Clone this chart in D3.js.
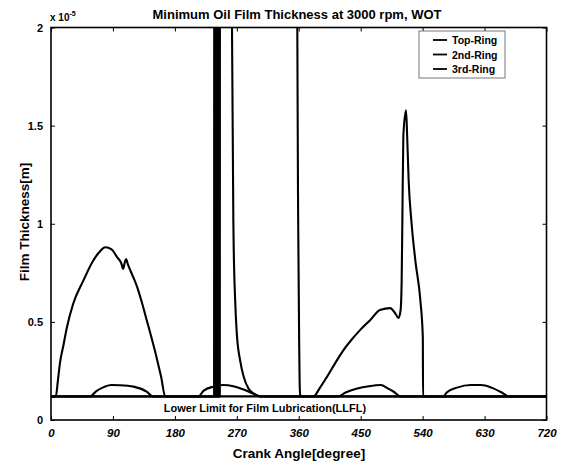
<!DOCTYPE html>
<html><head><meta charset="utf-8">
<script src="https://cdn.jsdelivr.net/npm/d3@7"></script>
<style>
html,body{margin:0;padding:0;background:#fff;}
svg text{font-family:"Liberation Sans",Arial,sans-serif;font-weight:bold;fill:#000;}
</style></head>
<body>
<svg id="chart" width="566" height="467"></svg>
<script>
// Crank angle [deg] / film thickness [x 1e-5 m]
const seriesNames = ["Top-Ring", "2nd-Ring", "3rd-Ring"];
const xTicks = [0, 90, 180, 270, 360, 450, 540, 630, 720];
const yTicks = [0, 0.5, 1, 1.5, 2];
const llfl = 0.12;

const topRing = [
  [0,0.12],[7,0.12],[10,0.2],[13,0.29],[18,0.38],[23,0.47],[32,0.59],[47,0.71],[61,0.81],[70,0.855],
  [79,0.88],[88,0.87],[96,0.83],[102,0.8],[105,0.77],[107,0.8],[109,0.82],[112,0.79],[118,0.74],
  [125,0.68],[132,0.6],[139,0.51],[146,0.42],[154,0.31],[160,0.22],[166,0.12],
  [237,0.12],[237.2,3],[238.8,3],[239,0.12],[240.3,0.12],[240.5,3],[241.8,3],[242,0.12],
  [243.8,0.12],[244,3],[357.6,3],[357.9,2.0],[359.2,1.0],[360.6,0.4],[361.6,0.15],[362.5,0.12],
  [381.5,0.12],[390,0.16],[401,0.22],[413,0.29],[425,0.356],[437,0.41],[449,0.458],[464,0.51],
  [478,0.56],[493,0.57],[500,0.545],[505,0.52],[508,0.56],[509.5,0.7],[510.5,1.0],[512,1.45],
  [515.9,1.578],[517.5,1.45],[519.7,1.22],[524,1.0],[529.5,0.81],[536.7,0.61],[540.3,0.42],
  [540.6,0.12],[720,0.12]
];
const secondRing = [
  [0,0.12],[245.3,0.12],[245.5,3],[262.5,3],[263,2.0],[265.2,0.95],[267.6,0.61],[270,0.44],
  [275,0.3],[280,0.22],[287,0.16],[294,0.135],[304,0.12],[720,0.12]
];
const thirdRing = [
  [0,0.12],[57,0.12],[65,0.145],[75,0.165],[88,0.178],[100,0.177],[120,0.17],[139,0.144],[148,0.12],
  [214,0.12],[222,0.15],[236,0.17],[250,0.178],[265,0.172],[280,0.155],[294,0.135],[305,0.12],
  [417,0.12],[428,0.14],[445,0.16],[462,0.172],[479,0.178],[490,0.16],[498,0.144],[508,0.12],
  [570,0.12],[575,0.14],[590,0.165],[610,0.178],[625,0.178],[640,0.165],[655,0.14],[665,0.12],
  [720,0.12]
];
const seriesData = [topRing, secondRing, thirdRing];

const svg = d3.select("#chart");
const L = 51, R = 546.5, T = 27.5, B = 420;
const x = d3.scaleLinear().domain([0, 720]).range([L, R]);
const y = d3.scaleLinear().domain([0, 2]).range([B, T]);

svg.append("defs").append("clipPath").attr("id", "clip")
  .append("rect").attr("x", L).attr("y", T).attr("width", R - L).attr("height", B - T);

// frame
svg.append("rect").attr("x", L).attr("y", T).attr("width", R - L).attr("height", B - T)
  .attr("fill", "none").attr("stroke", "#000").attr("stroke-width", 1.6);

// axes (ticks inside)
const xb = svg.append("g").attr("transform", `translate(0,${B})`)
  .call(d3.axisBottom(x).tickValues(xTicks).tickSize(-4).tickPadding(9).tickFormat(d3.format("d")));
const xt = svg.append("g").attr("transform", `translate(0,${T})`)
  .call(d3.axisTop(x).tickValues(xTicks).tickSize(-4).tickFormat(""));
const yl = svg.append("g").attr("transform", `translate(${L},0)`)
  .call(d3.axisLeft(y).tickValues(yTicks).tickSize(-4).tickPadding(8).tickFormat(d => d));
const yr = svg.append("g").attr("transform", `translate(${R},0)`)
  .call(d3.axisRight(y).tickValues(yTicks).tickSize(-4).tickFormat(""));
[xb, xt, yl, yr].forEach(g => {
  g.select(".domain").remove();
  g.selectAll(".tick line").attr("stroke", "#000").attr("stroke-width", 1);
});
xb.selectAll(".tick text").attr("font-size", 11.5).attr("font-style", "italic")
  .attr("font-family", "Liberation Sans, Arial, sans-serif").attr("font-weight", "bold");
yl.selectAll(".tick text").attr("font-size", 11)
  .attr("font-family", "Liberation Sans, Arial, sans-serif").attr("font-weight", "bold");

// lines
const line = d3.line().x(d => x(d[0])).y(d => y(d[1])).curve(d3.curveMonotoneX);
const g = svg.append("g").attr("clip-path", "url(#clip)");
g.append("line").attr("x1", x(0)).attr("x2", x(720)).attr("y1", y(llfl)).attr("y2", y(llfl))
  .attr("stroke", "#000").attr("stroke-width", 2.2);
seriesData.forEach((s, i) => {
  g.append("path").datum(s).attr("d", line).attr("fill", "none")
    .attr("stroke", "#000").attr("stroke-width", 2.1).attr("stroke-linejoin", "round");
});

// texts
svg.append("text").attr("x", 297).attr("y", 19).attr("text-anchor", "middle")
  .attr("font-size", 13).text("Minimum Oil Film Thickness at 3000 rpm, WOT");
const ex = svg.append("text").attr("x", 50).attr("y", 21).attr("font-size", 10);
ex.append("tspan").text("x 10");
ex.append("tspan").attr("dy", -5).attr("font-size", 7).text("-5");
svg.append("text").attr("x", 265).attr("y", 412).attr("text-anchor", "middle")
  .attr("font-size", 11).text("Lower Limit for Film Lubrication(LLFL)");
svg.append("text").attr("x", 299).attr("y", 458).attr("text-anchor", "middle")
  .attr("font-size", 13.5).text("Crank Angle[degree]");
svg.append("text").attr("transform", "translate(29,222) rotate(-90)").attr("text-anchor", "middle")
  .attr("font-size", 13.5).text("Film Thickness[m]");

// legend
const lg = svg.append("g");
lg.append("rect").attr("x", 419).attr("y", 31).attr("width", 86).attr("height", 47)
  .attr("fill", "#fff").attr("stroke", "#777").attr("stroke-width", 1);
seriesNames.forEach((n, i) => {
  const yy = 40 + i * 14.5;
  lg.append("line").attr("x1", 433).attr("x2", 447).attr("y1", yy).attr("y2", yy)
    .attr("stroke", "#000").attr("stroke-width", 1.8);
  lg.append("text").attr("x", 452).attr("y", yy + 4).attr("font-size", 10.5).text(n);
});
</script>
</body></html>
